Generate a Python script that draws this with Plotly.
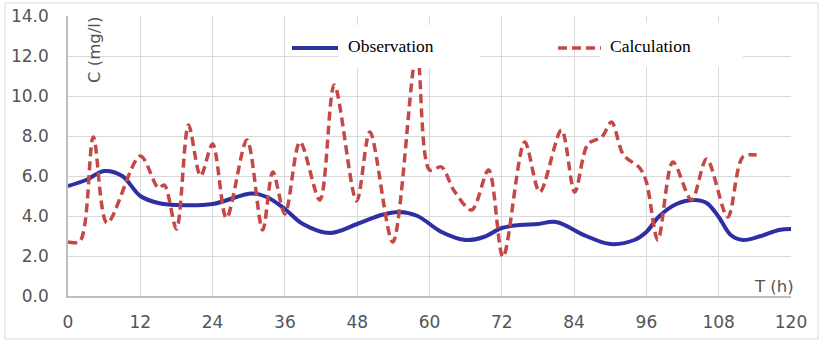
import plotly.graph_objects as go

# ---- data ----
obs_t = [0, 3, 6, 9, 12, 15, 18, 24, 30.5, 33, 36, 39, 43.5, 48, 52, 55, 58, 62, 66, 69, 72, 75, 78, 81, 86, 90, 94, 96, 98, 101, 104, 106, 108, 110, 112, 115, 118, 120]
obs_c = [5.5, 5.8, 6.25, 6.0, 5.0, 4.65, 4.55, 4.6, 5.13, 4.95, 4.35, 3.6, 3.15, 3.6, 4.05, 4.2, 4.0, 3.2, 2.8, 2.95, 3.4, 3.55, 3.6, 3.7, 3.0, 2.6, 2.8, 3.2, 3.95, 4.6, 4.8, 4.65, 3.95, 3.05, 2.8, 3.0, 3.3, 3.35]

calc_t = [0, 2, 4.2, 6.5, 12, 15, 16, 18, 20, 22, 24, 26.3, 29.7, 32.3, 34, 36, 38.5, 41.8, 44.2, 47.9, 50.1, 53.9, 57.9, 60, 62, 64, 67, 69.8, 72.2, 75.8, 78.3, 81.9, 84.1, 86.3, 88.6, 90.2, 92.2, 94.9, 96, 97.9, 100.4, 103.5, 106, 109.5, 112, 114.3]
calc_c = [2.7, 2.75, 7.95, 3.65, 7.0, 5.4, 5.55, 3.35, 8.55, 6.0, 7.6, 3.9, 7.8, 3.3, 6.2, 4.1, 7.7, 4.8, 10.55, 4.75, 8.2, 2.7, 12.2, 6.3, 6.45, 5.3, 4.3, 6.3, 1.95, 7.7, 5.2, 8.3, 5.2, 7.6, 7.95, 8.7, 7.05, 6.4, 5.7, 2.8, 6.7, 4.8, 6.85, 3.95, 6.95, 7.05]

x_ticks = [0, 12, 24, 36, 48, 60, 72, 84, 96, 108, 120]
y_ticks = [0, 2, 4, 6, 8, 10, 12, 14]

BLUE = "rgb(46,46,165)"
RED = "rgb(195,72,70)"
GRID = "#d9d9d9"
TXT = "#555555"

fig = go.Figure()
fig.add_trace(go.Scatter(x=obs_t, y=obs_c, mode="lines", name="Observation",
                         line=dict(color=BLUE, width=4, shape="spline", smoothing=1.0)))
fig.add_trace(go.Scatter(x=calc_t, y=calc_c, mode="lines", name="Calculation",
                         line=dict(color=RED, width=3.5, dash="9px,5px", shape="spline", smoothing=0.9)))

W, H = 822, 341
L, R, T, B = 68, 31, 16, 45
pw, ph = W - L - R, H - T - B

def px(x):
    return (x - L) / pw

def py(y):
    return (H - B - y) / ph

shapes = [
    # white legend backgrounds
    dict(type="rect", xref="paper", yref="paper", x0=px(338), x1=px(480), y0=py(68), y1=py(25),
         fillcolor="white", line=dict(width=0), layer="above"),
    dict(type="rect", xref="paper", yref="paper", x0=px(600), x1=px(743), y0=py(67), y1=py(23),
         fillcolor="white", line=dict(width=0), layer="above"),
    # legend samples
    dict(type="line", xref="paper", yref="paper", x0=px(292), x1=px(338), y0=py(48), y1=py(48),
         line=dict(color=BLUE, width=4), layer="above"),
    dict(type="line", xref="paper", yref="paper", x0=px(558), x1=px(601), y0=py(48), y1=py(48),
         line=dict(color=RED, width=3.5, dash="9px,5px"), layer="above"),
    # outer frame
    dict(type="rect", xref="paper", yref="paper", x0=px(5), x1=px(818), y0=py(339), y1=py(3),
         fillcolor="rgba(0,0,0,0)", line=dict(color=GRID, width=1), layer="below"),
]

annotations = [
    dict(text="Observation", xref="paper", yref="paper", x=px(346), y=py(46), xanchor="left", yanchor="middle",
         showarrow=False, font=dict(family="Liberation Serif", size=17.5, color="black")),
    dict(text="Calculation", xref="paper", yref="paper", x=px(608), y=py(46), xanchor="left", yanchor="middle",
         showarrow=False, font=dict(family="Liberation Serif", size=17.5, color="black")),
    dict(text="C (mg/l)", xref="paper", yref="paper", x=px(94), y=py(50), xanchor="center", yanchor="middle",
         textangle=-90, showarrow=False, font=dict(family="DejaVu Sans", size=16.5, color=TXT)),
    dict(text="T (h)", xref="paper", yref="paper", x=px(774), y=py(286), xanchor="center", yanchor="middle",
         showarrow=False, font=dict(family="DejaVu Sans", size=16.5, color=TXT)),
]

fig.update_layout(
    width=W, height=H,
    margin=dict(l=L, r=R, t=T, b=B, pad=0, autoexpand=False),
    paper_bgcolor="white", plot_bgcolor="white",
    showlegend=False,
    shapes=shapes, annotations=annotations,
    font=dict(family="DejaVu Sans", size=17, color=TXT),
)
fig.update_xaxes(range=[0, 120], tickvals=x_ticks, ticktext=[str(v) for v in x_ticks],
                 showgrid=True, gridcolor=GRID, gridwidth=1, zeroline=False, automargin=False,
                 showline=True, linecolor="#bfbfbf", linewidth=1.5, ticks="", ticklabelstandoff=10,
                 tickfont=dict(family="DejaVu Sans", size=17, color=TXT))
fig.update_yaxes(range=[0, 14], tickvals=y_ticks, ticktext=[f"{v:.1f}" for v in y_ticks],
                 showgrid=True, gridcolor=GRID, gridwidth=1, zeroline=False, automargin=False,
                 showline=True, linecolor="#bfbfbf", linewidth=1.5, ticks="", ticklabelstandoff=14,
                 tickfont=dict(family="DejaVu Sans", size=17, color=TXT))

fig.write_html("out.html", config={"displayModeBar": False},
               post_script="document.body.style.margin='0';")
